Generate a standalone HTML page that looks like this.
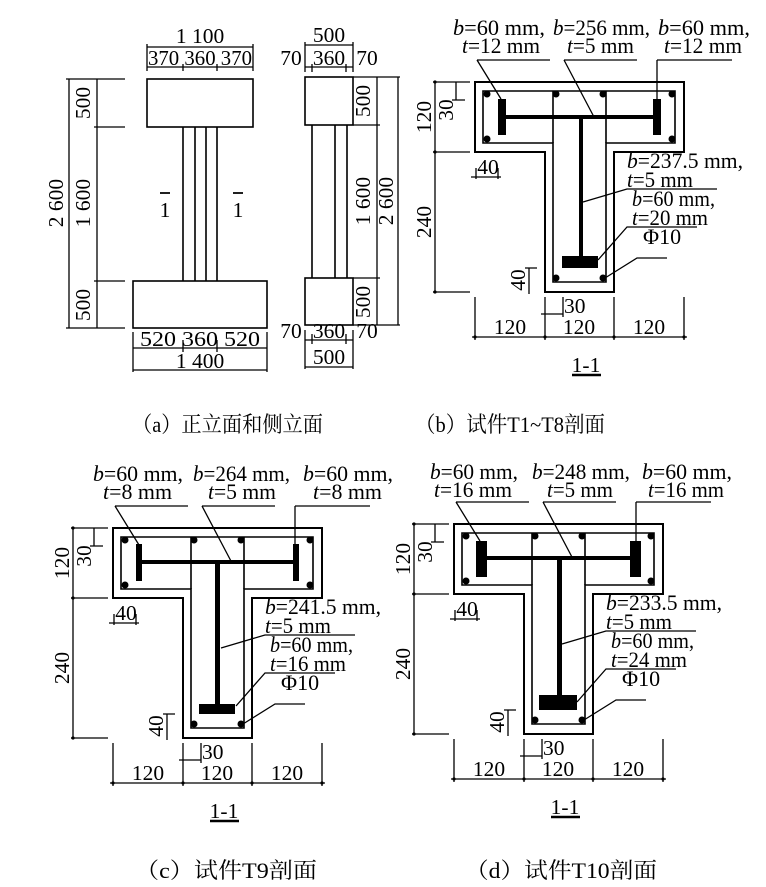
<!DOCTYPE html>
<html><head><meta charset="utf-8"><style>
html,body{margin:0;padding:0;background:#fff;}
svg{display:block;}
text{font-family:"Liberation Serif","Noto Serif CJK SC",serif;fill:#000;}
.d{font-size:21.5px;}
.l{font-size:22px;}
.cap{font-size:22px;}
</style></head><body>
<svg width="766" height="887" viewBox="0 0 766 887" xmlns="http://www.w3.org/2000/svg">
<defs>
<g id="tgeo" fill="none" stroke="#000">
  <path d="M0,0 H209 V70 H139 V210 H70 V70 H0 Z" stroke-width="2"/>
  <path d="M8,9 H200 V61 H131 V200 H78 V61 H8 Z" stroke-width="1.6"/>
  <path d="M78,9 V61 M131,9 V61" stroke-width="1.6"/>
  <g fill="#000" stroke="none">
    <circle cx="12" cy="12" r="3.5"/><circle cx="81" cy="12" r="3.5"/><circle cx="128" cy="12" r="3.5"/><circle cx="197" cy="12" r="3.5"/>
    <circle cx="12" cy="57" r="3.5"/><circle cx="197" cy="57" r="3.5"/><circle cx="81" cy="196" r="3.5"/><circle cx="128" cy="196" r="3.5"/>
  </g>
  <g stroke-width="1.3">
    <path d="M-40,0 V210 M-42,0 H-5 M-42,70 H-5 M-42,210 H-5"/>
    <path d="M-19,0 V18 M-23,18 H-10"/>
    <path d="M-4,95 H26 M1,86 V97 M23,86 V97"/>
    <path d="M0,215 V258 M70,215 V258 M139,215 V258 M209,215 V258 M-3,255 H212"/>
    <path d="M66,232 H88 M88,215 V235"/>
    <path d="M54,186 V212 M50,186 H62"/>
    <path d="M2,-22 H75 M2,-22 L26,17 M89,-22 H162 M89,-22 L119,35 M182,-22 H257 M182,-22 V17"/>
    <path d="M108,120 L152,107 H242 M123,178 L152,145 H222 M130,196 L162,176 H192"/>
  </g>
  <path d="M97,293 H126" stroke-width="2.5"/>
  <g fill="#000" stroke="none">
    <circle cx="-40" cy="0" r="1.6"/><circle cx="-40" cy="70" r="1.6"/><circle cx="-40" cy="210" r="1.6"/>
    <circle cx="0" cy="255" r="1.6"/><circle cx="70" cy="255" r="1.6"/><circle cx="139" cy="255" r="1.6"/><circle cx="209" cy="255" r="1.6"/>
  </g>
</g>
</defs>

<g fill="none" stroke="#000" stroke-width="1.6">
  <rect x="147" y="79" width="106" height="48"/>
  <rect x="133" y="281" width="134" height="47"/>
  <path d="M183,127 V281 M195,127 V281 M206,127 V281 M217,127 V281"/>
  <g stroke-width="1.3">
    <path d="M147,47 H253 M147,67 H253 M147,44 V71 M253,44 V71 M183,64 V71 M217,64 V71"/>
    <path d="M69,79 V328 M97,79 V328 M66,79 H125 M94,127 H125 M94,281 H125 M66,328 H125"/>
    <path d="M133,348 H267 M133,370 H267 M133,332 V372 M267,332 V372 M183,340 V352 M217,340 V352"/>
  </g>
  <path d="M160,193 H170 M233,193 H243" stroke-width="1.8"/>
</g>
<text class="d" x="200" y="43" text-anchor="middle">1 100</text>
<text class="d" x="200" y="65" text-anchor="middle" textLength="104" lengthAdjust="spacingAndGlyphs">370 360 370</text>
<text class="d" transform="rotate(-90 58 203)" x="58" y="203" text-anchor="middle" dominant-baseline="middle">2 600</text>
<text class="d" transform="rotate(-90 85 103)" x="85" y="103" text-anchor="middle" dominant-baseline="middle">500</text>
<text class="d" transform="rotate(-90 85 203)" x="85" y="203" text-anchor="middle" dominant-baseline="middle">1 600</text>
<text class="d" transform="rotate(-90 85 305)" x="85" y="305" text-anchor="middle" dominant-baseline="middle">500</text>
<text class="d" x="165" y="217" text-anchor="middle">1</text>
<text class="d" x="238" y="217" text-anchor="middle">1</text>
<text class="d" x="200" y="346" text-anchor="middle" textLength="120" lengthAdjust="spacingAndGlyphs">520 360 520</text>
<text class="d" x="200" y="368" text-anchor="middle">1 400</text>

<g fill="none" stroke="#000" stroke-width="1.6">
  <rect x="305" y="77" width="48" height="48"/>
  <rect x="305" y="278" width="48" height="47"/>
  <path d="M312,125 V278 M335,125 V278 M347,125 V278"/>
  <g stroke-width="1.3">
    <path d="M305,45 H353 M305,67 H353 M305,42 V72 M353,42 V72 M312,64 V72 M346,64 V72"/>
    <path d="M377,77 V325 M398,77 V325 M353,77 H400 M353,125 H380 M353,278 H380 M353,325 H400"/>
    <path d="M305,340 H353 M305,367 H353 M305,330 V369 M353,330 V369 M312,334 V344 M346,334 V344"/>
  </g>
</g>
<text class="d" x="329" y="42" text-anchor="middle">500</text>
<text class="d" x="291" y="65" text-anchor="middle">70</text>
<text class="d" x="329" y="65" text-anchor="middle">360</text>
<text class="d" x="367" y="65" text-anchor="middle">70</text>
<text class="d" transform="rotate(-90 365 101)" x="365" y="101" text-anchor="middle" dominant-baseline="middle">500</text>
<text class="d" transform="rotate(-90 365 201)" x="365" y="201" text-anchor="middle" dominant-baseline="middle">1 600</text>
<text class="d" transform="rotate(-90 365 302)" x="365" y="302" text-anchor="middle" dominant-baseline="middle">500</text>
<text class="d" transform="rotate(-90 388 201)" x="388" y="201" text-anchor="middle" dominant-baseline="middle">2 600</text>
<text class="d" x="291" y="338" text-anchor="middle">70</text>
<text class="d" x="329" y="338" text-anchor="middle">360</text>
<text class="d" x="367" y="338" text-anchor="middle">70</text>
<text class="d" x="329" y="364" text-anchor="middle">500</text>

<text class="cap" x="132" y="432" textLength="191" lengthAdjust="spacingAndGlyphs">（a）正立面和侧立面</text>
<text class="cap" x="415" y="432" textLength="190" lengthAdjust="spacingAndGlyphs">（b）试件T1~T8剖面</text>
<text class="cap" x="135" y="878" textLength="182" lengthAdjust="spacingAndGlyphs">（c）试件T9剖面</text>
<text class="cap" x="465" y="878" textLength="192" lengthAdjust="spacingAndGlyphs">（d）试件T10剖面</text>

<g transform="translate(475,82)">
  <use href="#tgeo"/>
  <g fill="#000">
    <rect x="23" y="17" width="8" height="36"/><rect x="178" y="17" width="8" height="36"/>
    <rect x="31" y="33" width="147" height="4"/><rect x="104" y="37" width="4" height="137"/>
    <rect x="87" y="174" width="36" height="12"/>
  </g>
  <text class="d" transform="rotate(-90 -49 35)" x="-49" y="35" text-anchor="middle" dominant-baseline="middle">120</text>
  <text class="d" transform="rotate(-90 -49 140)" x="-49" y="140" text-anchor="middle" dominant-baseline="middle">240</text>
  <text class="d" transform="rotate(-90 -27 28)" x="-27" y="28" text-anchor="middle" dominant-baseline="middle">30</text>
  <text class="d" x="13" y="92" text-anchor="middle">40</text>
  <text class="d" transform="rotate(-90 45 198)" x="45" y="198" text-anchor="middle" dominant-baseline="middle">40</text>
  <text class="d" x="89" y="231">30</text>
  <text class="d" x="35" y="252" text-anchor="middle">120</text>
  <text class="d" x="104" y="252" text-anchor="middle">120</text>
  <text class="d" x="174" y="252" text-anchor="middle">120</text>
  <text class="d" x="111" y="290" text-anchor="middle">1-1</text>
  <text class="l" x="-22" y="-47" textLength="92" lengthAdjust="spacingAndGlyphs"><tspan font-style="italic">b</tspan>=60 mm,</text>
  <text class="l" x="78" y="-47" textLength="97" lengthAdjust="spacingAndGlyphs"><tspan font-style="italic">b</tspan>=256 mm,</text>
  <text class="l" x="183" y="-47" textLength="92" lengthAdjust="spacingAndGlyphs"><tspan font-style="italic">b</tspan>=60 mm,</text>
  <text class="l" x="-13" y="-29" textLength="78" lengthAdjust="spacingAndGlyphs"><tspan font-style="italic">t</tspan>=12 mm</text>
  <text class="l" x="92" y="-29" textLength="67" lengthAdjust="spacingAndGlyphs"><tspan font-style="italic">t</tspan>=5 mm</text>
  <text class="l" x="189" y="-29" textLength="78" lengthAdjust="spacingAndGlyphs"><tspan font-style="italic">t</tspan>=12 mm</text>
  <text class="l" x="152" y="86" textLength="116" lengthAdjust="spacingAndGlyphs"><tspan font-style="italic">b</tspan>=237.5 mm,</text>
  <text class="l" x="152" y="105" textLength="66" lengthAdjust="spacingAndGlyphs"><tspan font-style="italic">t</tspan>=5 mm</text>
  <text class="l" x="157" y="124" textLength="83" lengthAdjust="spacingAndGlyphs"><tspan font-style="italic">b</tspan>=60 mm,</text>
  <text class="l" x="157" y="143" textLength="76" lengthAdjust="spacingAndGlyphs"><tspan font-style="italic">t</tspan>=20 mm</text>
  <text class="l" x="168" y="162">Φ10</text>
</g>

<g transform="translate(113,528)">
  <use href="#tgeo"/>
  <g fill="#000">
    <rect x="23" y="16" width="6" height="37"/><rect x="180" y="16" width="6" height="37"/>
    <rect x="29" y="32" width="151" height="4"/><rect x="102" y="36" width="5" height="140"/>
    <rect x="86" y="176" width="36" height="10"/>
  </g>
  <text class="d" transform="rotate(-90 -49 35)" x="-49" y="35" text-anchor="middle" dominant-baseline="middle">120</text>
  <text class="d" transform="rotate(-90 -49 140)" x="-49" y="140" text-anchor="middle" dominant-baseline="middle">240</text>
  <text class="d" transform="rotate(-90 -27 28)" x="-27" y="28" text-anchor="middle" dominant-baseline="middle">30</text>
  <text class="d" x="13" y="92" text-anchor="middle">40</text>
  <text class="d" transform="rotate(-90 45 198)" x="45" y="198" text-anchor="middle" dominant-baseline="middle">40</text>
  <text class="d" x="89" y="231">30</text>
  <text class="d" x="35" y="252" text-anchor="middle">120</text>
  <text class="d" x="104" y="252" text-anchor="middle">120</text>
  <text class="d" x="174" y="252" text-anchor="middle">120</text>
  <text class="d" x="111" y="290" text-anchor="middle">1-1</text>
  <text class="l" x="-20" y="-47" textLength="90" lengthAdjust="spacingAndGlyphs"><tspan font-style="italic">b</tspan>=60 mm,</text>
  <text class="l" x="80" y="-47" textLength="97" lengthAdjust="spacingAndGlyphs"><tspan font-style="italic">b</tspan>=264 mm,</text>
  <text class="l" x="190" y="-47" textLength="90" lengthAdjust="spacingAndGlyphs"><tspan font-style="italic">b</tspan>=60 mm,</text>
  <text class="l" x="-10" y="-29" textLength="69" lengthAdjust="spacingAndGlyphs"><tspan font-style="italic">t</tspan>=8 mm</text>
  <text class="l" x="95" y="-29" textLength="68" lengthAdjust="spacingAndGlyphs"><tspan font-style="italic">t</tspan>=5 mm</text>
  <text class="l" x="200" y="-29" textLength="69" lengthAdjust="spacingAndGlyphs"><tspan font-style="italic">t</tspan>=8 mm</text>
  <text class="l" x="152" y="86" textLength="116" lengthAdjust="spacingAndGlyphs"><tspan font-style="italic">b</tspan>=241.5 mm,</text>
  <text class="l" x="152" y="105" textLength="66" lengthAdjust="spacingAndGlyphs"><tspan font-style="italic">t</tspan>=5 mm</text>
  <text class="l" x="157" y="124" textLength="83" lengthAdjust="spacingAndGlyphs"><tspan font-style="italic">b</tspan>=60 mm,</text>
  <text class="l" x="157" y="143" textLength="76" lengthAdjust="spacingAndGlyphs"><tspan font-style="italic">t</tspan>=16 mm</text>
  <text class="l" x="168" y="162">Φ10</text>
</g>

<g transform="translate(454,524)">
  <use href="#tgeo"/>
  <g fill="#000">
    <rect x="22" y="17" width="11" height="36"/><rect x="176" y="17" width="11" height="36"/>
    <rect x="33" y="32" width="143" height="4"/><rect x="103" y="36" width="5" height="135"/>
    <rect x="85" y="171" width="38" height="15"/>
  </g>
  <text class="d" transform="rotate(-90 -49 35)" x="-49" y="35" text-anchor="middle" dominant-baseline="middle">120</text>
  <text class="d" transform="rotate(-90 -49 140)" x="-49" y="140" text-anchor="middle" dominant-baseline="middle">240</text>
  <text class="d" transform="rotate(-90 -27 28)" x="-27" y="28" text-anchor="middle" dominant-baseline="middle">30</text>
  <text class="d" x="13" y="92" text-anchor="middle">40</text>
  <text class="d" transform="rotate(-90 45 198)" x="45" y="198" text-anchor="middle" dominant-baseline="middle">40</text>
  <text class="d" x="89" y="231">30</text>
  <text class="d" x="35" y="252" text-anchor="middle">120</text>
  <text class="d" x="104" y="252" text-anchor="middle">120</text>
  <text class="d" x="174" y="252" text-anchor="middle">120</text>
  <text class="d" x="111" y="290" text-anchor="middle">1-1</text>
  <text class="l" x="-24" y="-45" textLength="88" lengthAdjust="spacingAndGlyphs"><tspan font-style="italic">b</tspan>=60 mm,</text>
  <text class="l" x="78" y="-45" textLength="98" lengthAdjust="spacingAndGlyphs"><tspan font-style="italic">b</tspan>=248 mm,</text>
  <text class="l" x="188" y="-45" textLength="90" lengthAdjust="spacingAndGlyphs"><tspan font-style="italic">b</tspan>=60 mm,</text>
  <text class="l" x="-20" y="-27" textLength="78" lengthAdjust="spacingAndGlyphs"><tspan font-style="italic">t</tspan>=16 mm</text>
  <text class="l" x="93" y="-27" textLength="66" lengthAdjust="spacingAndGlyphs"><tspan font-style="italic">t</tspan>=5 mm</text>
  <text class="l" x="194" y="-27" textLength="76" lengthAdjust="spacingAndGlyphs"><tspan font-style="italic">t</tspan>=16 mm</text>
  <text class="l" x="152" y="86" textLength="116" lengthAdjust="spacingAndGlyphs"><tspan font-style="italic">b</tspan>=233.5 mm,</text>
  <text class="l" x="152" y="105" textLength="66" lengthAdjust="spacingAndGlyphs"><tspan font-style="italic">t</tspan>=5 mm</text>
  <text class="l" x="157" y="124" textLength="83" lengthAdjust="spacingAndGlyphs"><tspan font-style="italic">b</tspan>=60 mm,</text>
  <text class="l" x="157" y="143" textLength="76" lengthAdjust="spacingAndGlyphs"><tspan font-style="italic">t</tspan>=24 mm</text>
  <text class="l" x="168" y="162">Φ10</text>
</g>
</svg>
</body></html>
